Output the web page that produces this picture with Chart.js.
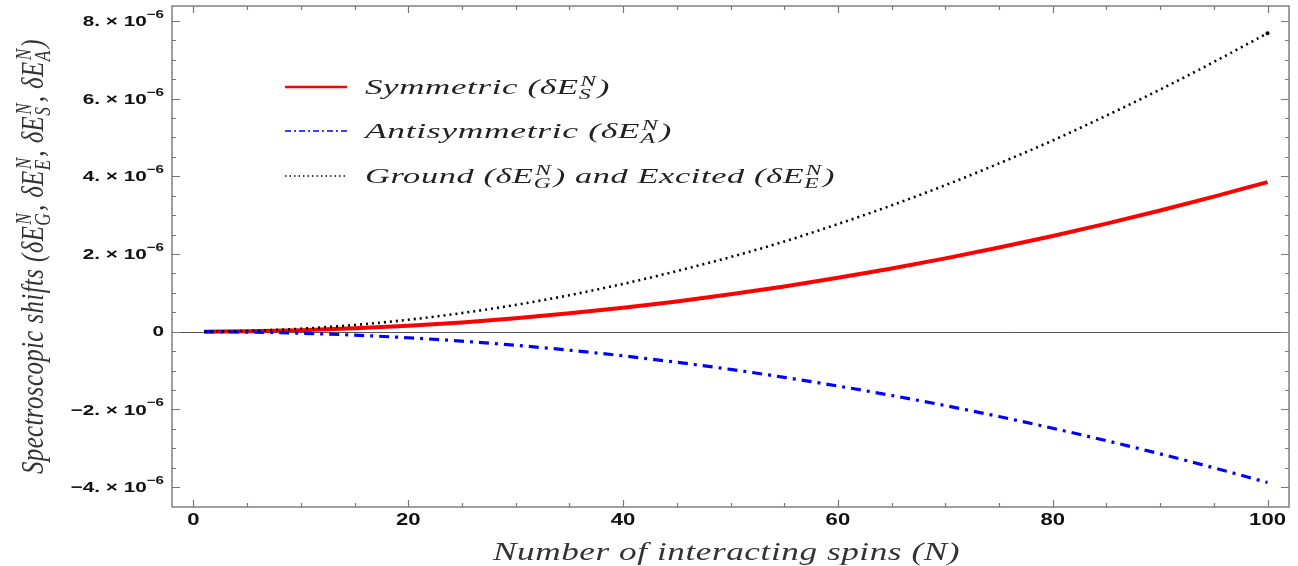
<!DOCTYPE html>
<html>
<head>
<meta charset="utf-8">
<script src="https://cdn.jsdelivr.net/npm/chart.js@4.4.1/dist/chart.umd.min.js"></script>
<style>
  html, body { margin: 0; padding: 0; background: #fff; }
  #wrap { width: 1298px; height: 566px; }
</style>
</head>
<body>
<div id="wrap"><canvas id="shiftChart" width="1298" height="566"></canvas></div>
<script>
// === DATA (values in units of 1e-6) ===
const nValues = [1, 5, 10, 15, 20, 25, 30, 35, 40, 45, 50, 55, 60, 65, 70, 75, 80, 85, 90, 95, 100];
const symmetricShift = [0.0004, 0.01, 0.038, 0.087, 0.154, 0.24, 0.347, 0.472, 0.616, 0.78, 0.962,
  1.165, 1.386, 1.627, 1.887, 2.166, 2.464, 2.782, 3.119, 3.475, 3.85];
const antisymmetricShift = [-0.0004, -0.01, -0.039, -0.088, -0.156, -0.243, -0.35, -0.476, -0.621, -0.786, -0.97,
  -1.174, -1.397, -1.64, -1.902, -2.183, -2.484, -2.804, -3.143, -3.502, -3.88];
const groundExcitedShift = [0.001, 0.02, 0.077, 0.173, 0.308, 0.48, 0.69, 0.94, 1.23, 1.56, 1.92,
  2.32, 2.77, 3.25, 3.77, 4.33, 4.92, 5.56, 6.23, 6.94, 7.68];
const xTicks = [0, 20, 40, 60, 80, 100];
const yTicks = [-4, -2, 0, 2, 4, 6, 8];
const yTickMantissa = ["\u22124.", "\u22122.", "0", "2.", "4.", "6.", "8."];

const SCALE = 1e-6;
const toPoints = arr => nValues.map((n, i) => ({ x: n, y: arr[i] * SCALE }));

// the reference is stretched sideways, so text gets a horizontal scale
const SX = 1.38;
const SANS = '"Liberation Sans", Arial, sans-serif';
const SERIF = '"Liberation Serif", "DejaVu Serif", serif';

// draw text with a horizontal stretch, x = left edge
function stretchText(ctx, text, x, y, sx) {
  ctx.save();
  ctx.translate(x, y);
  ctx.scale(sx, 1);
  ctx.fillText(text, 0, 0);
  ctx.restore();
  return ctx.measureText(text).width * sx;
}

// === RICH TEXT HELPER (italic math with sub/superscripts), unscaled units ===
function drawRich(ctx, parts, x, y, size, spacing, doDraw) {
  let cx = x;
  parts.forEach(p => {
    if (typeof p === "string") {
      ctx.font = `italic ${size}px ${SERIF}`;
      ctx.letterSpacing = spacing + "px";
      if (doDraw) ctx.fillText(p, cx, y);
      cx += ctx.measureText(p).width;
    } else {
      const s = Math.round(size * 0.68);
      ctx.font = `italic ${s}px ${SERIF}`;
      ctx.letterSpacing = "0px";
      let w = 0;
      if (p.sup) {
        if (doDraw) ctx.fillText(p.sup, cx + 1, y - size * 0.38);
        w = Math.max(w, ctx.measureText(p.sup).width);
      }
      if (p.sub) {
        if (doDraw) ctx.fillText(p.sub, cx, y + size * 0.22);
        w = Math.max(w, ctx.measureText(p.sub).width);
      }
      cx += w + 2;
    }
  });
  ctx.letterSpacing = "0px";
  return cx - x;
}

// fit rich text to a target width along the text, with a cross stretch
function drawRichFit(ctx, parts, x, y, size, targetW, cross) {
  const w = drawRich(ctx, parts, 0, 0, size, 0.4, false);
  const sx = targetW / w;
  ctx.save();
  ctx.translate(x, y);
  ctx.scale(sx, cross || 1);
  drawRich(ctx, parts, 0, 0, size, 0.4, true);
  ctx.restore();
}

// === FRAME / TICKS / LABELS / LEGEND PLUGIN ===
const framePlugin = {
  id: "mmaFrame",
  beforeDatasetsDraw(chart) {
    const { ctx, chartArea: a, scales: { y } } = chart;
    const y0 = y.getPixelForValue(0);
    ctx.save();
    ctx.strokeStyle = "#555";
    ctx.lineWidth = 1;
    ctx.beginPath();
    ctx.moveTo(a.left, Math.round(y0) + 0.5);
    ctx.lineTo(a.right, Math.round(y0) + 0.5);
    ctx.stroke();
    ctx.restore();
  },
  afterDatasetsDraw(chart) {
    const { ctx, chartArea: a, scales: { x, y } } = chart;
    ctx.save();
    ctx.strokeStyle = "#777";
    ctx.lineWidth = 1.4;
    ctx.strokeRect(a.left, a.top, a.right - a.left, a.bottom - a.top);

    // x ticks (inward, bottom and top)
    ctx.lineWidth = 1.2;
    for (let v = 0; v <= 100; v += 5) {
      const px = Math.round(x.getPixelForValue(v)) + 0.5;
      const len = v % 20 === 0 ? 7 : 4;
      ctx.beginPath();
      ctx.moveTo(px, a.bottom); ctx.lineTo(px, a.bottom - len);
      ctx.moveTo(px, a.top); ctx.lineTo(px, a.top + len);
      ctx.stroke();
    }
    // y ticks (inward, left and right)
    for (let k = -8; k <= 16; k++) {
      const v = k * 0.5 * SCALE;
      if (v < y.min || v > y.max) continue;
      const py = Math.round(y.getPixelForValue(v)) + 0.5;
      const len = k % 4 === 0 ? 8 : 4;
      ctx.beginPath();
      ctx.moveTo(a.left, py); ctx.lineTo(a.left + len, py);
      ctx.moveTo(a.right, py); ctx.lineTo(a.right - len, py);
      ctx.stroke();
    }

    // x tick labels
    ctx.fillStyle = "#111";
    ctx.textBaseline = "middle";
    ctx.textAlign = "left";
    ctx.font = `bold 16px ${SANS}`;
    xTicks.forEach(v => {
      const w = ctx.measureText(String(v)).width * SX;
      stretchText(ctx, String(v), x.getPixelForValue(v) - w / 2, 521, SX);
    });

    // y tick labels  (m. × 10^-6)
    const right = 164;
    yTicks.forEach((v, i) => {
      const py = y.getPixelForValue(v * SCALE);
      if (v === 0) {
        ctx.font = `bold 15px ${SANS}`;
        const w = ctx.measureText("0").width * SX;
        stretchText(ctx, "0", right - w, py, SX);
        return;
      }
      const main = yTickMantissa[i] + " \u00d7 10";
      ctx.font = `bold 11px ${SANS}`;
      const supW = ctx.measureText("\u22126").width * SX;
      ctx.font = `bold 15px ${SANS}`;
      const mainW = ctx.measureText(main).width * SX;
      const start = right - supW - mainW;
      stretchText(ctx, main, start, py + 1, SX);
      ctx.font = `bold 11px ${SANS}`;
      stretchText(ctx, "\u22126", start + mainW, py - 6, SX);
    });

    // axis titles
    ctx.fillStyle = "#333";
    ctx.textBaseline = "alphabetic";
    const xTitle = ["Number of interacting spins (N)"];
    drawRichFit(ctx, xTitle, 493, 560, 25, 467, 1);

    const yTitle = ["Spectroscopic shifts (\u03b4E", { sub: "G", sup: "N" }, ", \u03b4E", { sub: "E", sup: "N" },
      ", \u03b4E", { sub: "S", sup: "N" }, ", \u03b4E", { sub: "A", sup: "N" }, ")"];
    ctx.save();
    ctx.translate(43, 257);
    ctx.rotate(-Math.PI / 2);
    drawRichFit(ctx, yTitle, -217, 0, 23, 435, SX);
    ctx.restore();

    // legend
    const rows = [
      { color: "#ff0000", dash: [], width: 2.5, target: 245,
        parts: ["Symmetric (\u03b4E", { sub: "S", sup: "N" }, ")"], y: 87 },
      { color: "#0000ff", dash: [6, 3, 2, 3], width: 1.6, target: 307,
        parts: ["Antisymmetric (\u03b4E", { sub: "A", sup: "N" }, ")"], y: 131 },
      { color: "#000000", dash: [1.5, 3], width: 1.5, target: 470,
        parts: ["Ground (\u03b4E", { sub: "G", sup: "N" }, ") and Excited (\u03b4E", { sub: "E", sup: "N" }, ")"], y: 176 }
    ];
    rows.forEach(r => {
      ctx.strokeStyle = r.color;
      ctx.lineWidth = r.width;
      ctx.setLineDash(r.dash);
      ctx.beginPath();
      ctx.moveTo(285, r.y);
      ctx.lineTo(347, r.y);
      ctx.stroke();
      ctx.setLineDash([]);
      ctx.fillStyle = "#222";
      drawRichFit(ctx, r.parts, 365, r.y + 7, 22, r.target, 1);
    });
    ctx.restore();
  }
};

// === CHART ===
const ctx = document.getElementById("shiftChart").getContext("2d");
const shiftChart = new Chart(ctx, {
  type: "line",
  data: {
    datasets: [
      {
        label: "Ground and Excited",
        data: toPoints(groundExcitedShift),
        borderColor: "#000",
        borderWidth: 2.6,
        borderDash: [2, 4],
        pointRadius: nValues.map(n => (n === 100 ? 2 : 0)),
        pointBackgroundColor: "#000",
        pointBorderWidth: 0,
        cubicInterpolationMode: "monotone"
      },
      {
        label: "Antisymmetric",
        data: toPoints(antisymmetricShift),
        borderColor: "#0000ff",
        borderWidth: 3.2,
        borderDash: [10, 6, 3, 6],
        pointRadius: 0,
        cubicInterpolationMode: "monotone"
      },
      {
        label: "Symmetric",
        data: toPoints(symmetricShift),
        borderColor: "#ff0000",
        borderWidth: 4,
        pointRadius: 0,
        cubicInterpolationMode: "monotone"
      }
    ]
  },
  options: {
    responsive: false,
    animation: false,
    layout: { padding: { left: 172, right: 9, top: 6, bottom: 59 } },
    plugins: { legend: { display: false }, tooltip: { enabled: false } },
    scales: {
      x: {
        type: "linear", min: -2, max: 102,
        ticks: { display: false }, grid: { display: false }, border: { display: false },
        afterFit: s => { s.height = 0; }
      },
      y: {
        type: "linear", min: -4.51e-6, max: 8.38e-6,
        ticks: { display: false }, grid: { display: false }, border: { display: false },
        afterFit: s => { s.width = 0; }
      }
    }
  },
  plugins: [framePlugin]
});
</script>
</body>
</html>
